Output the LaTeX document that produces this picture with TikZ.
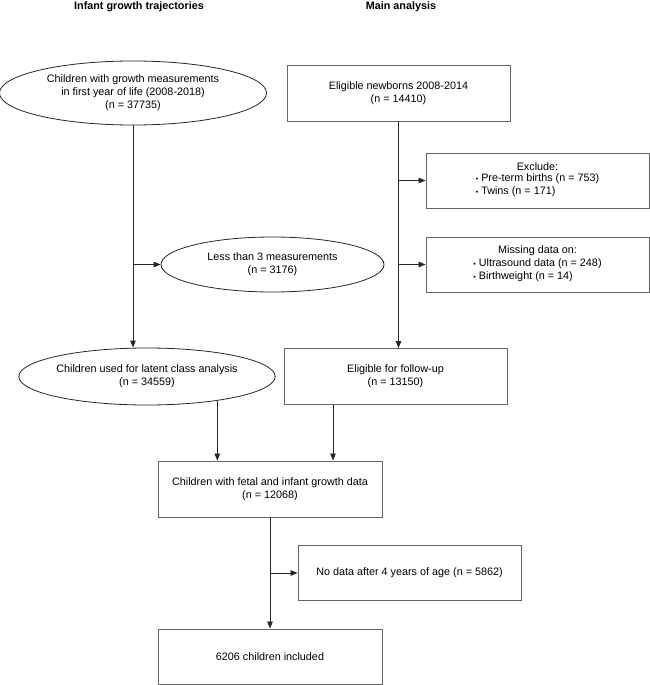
\documentclass[tikz,border=0pt]{standalone}
\usepackage{fontspec}
\setmainfont{Liberation Sans}
\usetikzlibrary{shapes.geometric,arrows.meta}
\begin{document}
\begin{tikzpicture}[x=1pt,y=-1pt,
  every node/.style={font=\fontsize{10.8}{13}\selectfont, align=center, inner sep=0pt},
  title/.style={font=\fontsize{10.8}{13}\selectfont\bfseries},
  boxnode/.style={draw=black!60, line width=0.9pt, rectangle, minimum width=223pt, minimum height=55pt},
  ellnode/.style={draw=black!85, line width=0.8pt, ellipse},
  arr/.style={draw=black!85, line width=0.8pt, -{Triangle[length=7pt,width=5.5pt]}},
  ln/.style={draw=black!85, line width=0.8pt}
]
\useasboundingbox (0,0) rectangle (650,685);

\node[title] (t1) at (139,7) {Infant growth trajectories};
\node[title] (t2) at (401,7) {Main analysis};

\node[ellnode, minimum width=267pt, minimum height=64pt] (e1) at (133,93)
  {Children with growth measurements\\in first year of life (2008-2018)\\(n = 37735)};
\node[boxnode, minimum height=56pt] (b1) at (398.5,93) {Eligible newborns 2008-2014\\(n = 14410)};

\node[boxnode] (bx) at (537.5,180.5)
  {Exclude:\\\begin{tabular}{@{}l@{}}{\scriptsize\textbullet} Pre-term births (n = 753)\\{\scriptsize\textbullet} Twins (n = 171)\end{tabular}};
\node[boxnode] (bm) at (537.5,264.5)
  {Missing data on:\\\begin{tabular}{@{}l@{}}{\scriptsize\textbullet} Ultrasound data (n = 248)\\{\scriptsize\textbullet} Birthweight (n = 14)\end{tabular}};

\node[ellnode, minimum width=223pt, minimum height=55pt] (e2) at (272.5,264.5)
  {Less than 3 measurements\\(n = 3176)};

\node[ellnode, minimum width=242pt, minimum height=57pt] (e3) at (147,376.5)
  {Children used for latent class analysis\\(n = 34559)};
\node[boxnode, minimum height=56pt] (b2) at (395.5,376.5) {Eligible for follow-up\\(n = 13150)};

\node[boxnode, minimum width=224pt, minimum height=56pt] (b3) at (270,489)
  {Children with fetal and infant growth data\\(n = 12068)};
\node[boxnode] (b4) at (409.5,573) {No data after 4 years of age (n = 5862)};
\node[boxnode, minimum width=224pt] (b5) at (270,656.5) {6206 children included};

% left column
\draw[arr] (e1.south) -- (e1.south |- e3.north);
\coordinate (j1) at (e1.south |- e2.west);
\draw[arr] (j1) -- (e2.west);

% right column
\draw[arr] (b1.south) -- (b1.south |- b2.north);
\coordinate (j2) at (b1.south |- bx.west);
\coordinate (j3) at (b1.south |- bm.west);
\draw[arr] (j2) -- (bx.west);
\draw[arr] (j3) -- (bm.west);

% merge
\draw[arr] (e3.-19.9) -- (e3.-19.9 |- b3.north);
\draw[arr] ([xshift=-62.5pt]b2.south) -- ([xshift=-62.5pt]b2.south |- b3.north);

% bottom
\draw[arr] (b3.south) -- (b5.north);
\coordinate (j4) at (b3.south |- b4.west);
\draw[arr] (j4) -- (b4.west);
\end{tikzpicture}
\end{document}
